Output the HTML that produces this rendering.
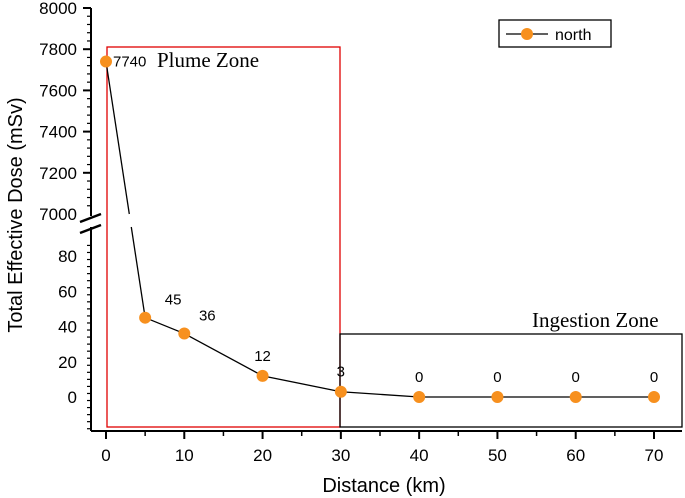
<!DOCTYPE html>
<html><head><meta charset="utf-8"><style>
html,body{margin:0;padding:0;background:#fff;}
svg{display:block;font-family:"Liberation Sans",sans-serif;}
</style></head><body>
<svg id="chart" width="685" height="498">
</svg>
<script>
const distances=[0,5,10,20,30,40,50,60,70];
const doses=[7740,45,36,12,3,0,0,0,0];
const doseLabels=["7740","45","36","12","3","0","0","0","0"];
const xTicks=[0,10,20,30,40,50,60,70];
const yLowTicks=[0,20,40,60,80];
const yHighTicks=[7000,7200,7400,7600,7800,8000];

const NS="http://www.w3.org/2000/svg";
const svg=document.getElementById('chart');
function mk(tag,attrs,parent){const e=document.createElementNS(NS,tag);for(const k in attrs)e.setAttribute(k,attrs[k]);(parent||svg).appendChild(e);return e;}
const x=d=>106+d*(654-106)/70;
const yLow=v=>397-v*(397-256)/80;
const yHigh=v=>214-(v-7000)*(214-8)/1000;
const isHigh=v=>v>=1000;
const y=v=>isHigh(v)?yHigh(v):yLow(v);

let r=mk('rect',{x:107,y:47,width:233,height:380,fill:'none',stroke:'#e00000','stroke-width':1.3});


let t=mk('text',{x:157,y:67,'font-size':21,'font-family':'Liberation Serif, serif'});t.textContent='Plume Zone';


r=mk('rect',{x:340,y:334,width:342,height:93,fill:'none',stroke:'#000','stroke-width':1.3});


t=mk('text',{x:532,y:327,'font-size':21,'font-family':'Liberation Serif, serif'});t.textContent='Ingestion Zone';



const ax=mk('g',{stroke:'#000','stroke-width':2,fill:'none'});


mk('line',{x1:91,y1:431,x2:682,y2:431},ax);
mk('line',{x1:91,y1:431,x2:91,y2:227},ax);
mk('line',{x1:91,y1:216,x2:91,y2:8},ax);
mk('line',{x1:80,y1:222,x2:101,y2:214,'stroke-width':2.5},ax);
mk('line',{x1:80,y1:233,x2:101,y2:225,'stroke-width':2.5},ax);

const tg=mk('g',{'font-size':17,fill:'#000'});


xTicks.forEach(d=>{mk('line',{x1:x(d),y1:431,x2:x(d),y2:439,stroke:'#000','stroke-width':2});
 mk('line',{x1:x(d+5),y1:431,x2:x(d+5),y2:436,stroke:'#000','stroke-width':1.5});
 const e=mk('text',{x:x(d),y:461,'text-anchor':'middle'},tg);e.textContent=d;});
for(let v=-18;v<=86;v+=4){const m=v%20===0;mk('line',{x1:91-(m?8:4),y1:yLow(v),x2:91,y2:yLow(v),stroke:'#000','stroke-width':m?2:1.2});}
yLowTicks.forEach(v=>{const e=mk('text',{x:77,y:yLow(v)+6,'text-anchor':'end'},tg);e.textContent=v;});
for(let v=7040;v<=8000;v+=40){const m=v%200===0;mk('line',{x1:91-(m?8:4),y1:yHigh(v),x2:91,y2:yHigh(v),stroke:'#000','stroke-width':m?2:1.2});}
yHighTicks.forEach(v=>{const e=mk('text',{x:77,y:yHigh(v)+6,'text-anchor':'end'},tg);e.textContent=v;});

t=mk('text',{x:384,y:492,'font-size':20,'text-anchor':'middle'});t.textContent='Distance (km)';


t=mk('text',{x:0,y:0,'font-size':20,'text-anchor':'middle',transform:'translate(22,215) rotate(-90)'});t.textContent='Total Effective Dose (mSv)';



let pts=distances.map((d,i)=>[x(d),y(doses[i])]);
const lg=mk('g',{stroke:'#000','stroke-width':1.3,fill:'none'});


for(let i=0;i<pts.length-1;i++){
 const [x1,y1]=pts[i],[x2,y2]=pts[i+1];
 if(isHigh(doses[i])!==isHigh(doses[i+1])){
  const f1=(214-y1)/(y2-y1), f2=(227-y1)/(y2-y1);
  mk('line',{x1,y1,x2:x1+(x2-x1)*f1,y2:214},lg);
  mk('line',{x1:x1+(x2-x1)*f2,y1:227,x2,y2},lg);
 } else mk('line',{x1,y1,x2,y2},lg);
}
pts.forEach((p,i)=>{
 const c=mk('circle',{cx:p[0],cy:p[1],r:6,fill:'#f7901e'});
 
 
 const lx=i===0?p[0]+7:(i===1?p[0]+28:(i===2?p[0]+23:p[0])), ly=i===0?p[1]+5:(i<=2?p[1]-13:p[1]-15);
 const e=mk('text',{x:lx,y:ly,'font-size':i===0?15:15,'text-anchor':i===0?'start':'middle'});
 e.textContent=doseLabels[i];
 
 
});

const leg=mk('g',{});


mk('rect',{x:499,y:20,width:112,height:27,fill:'#fff',stroke:'#000','stroke-width':1.3},leg);
mk('line',{x1:506,y1:34,x2:548,y2:34,stroke:'#000','stroke-width':1.3},leg);
mk('circle',{cx:527,cy:34,r:6,fill:'#f7901e'},leg);
const lt=mk('text',{x:555,y:40,'font-size':16},leg);lt.textContent='north';
</script>
</body></html>
